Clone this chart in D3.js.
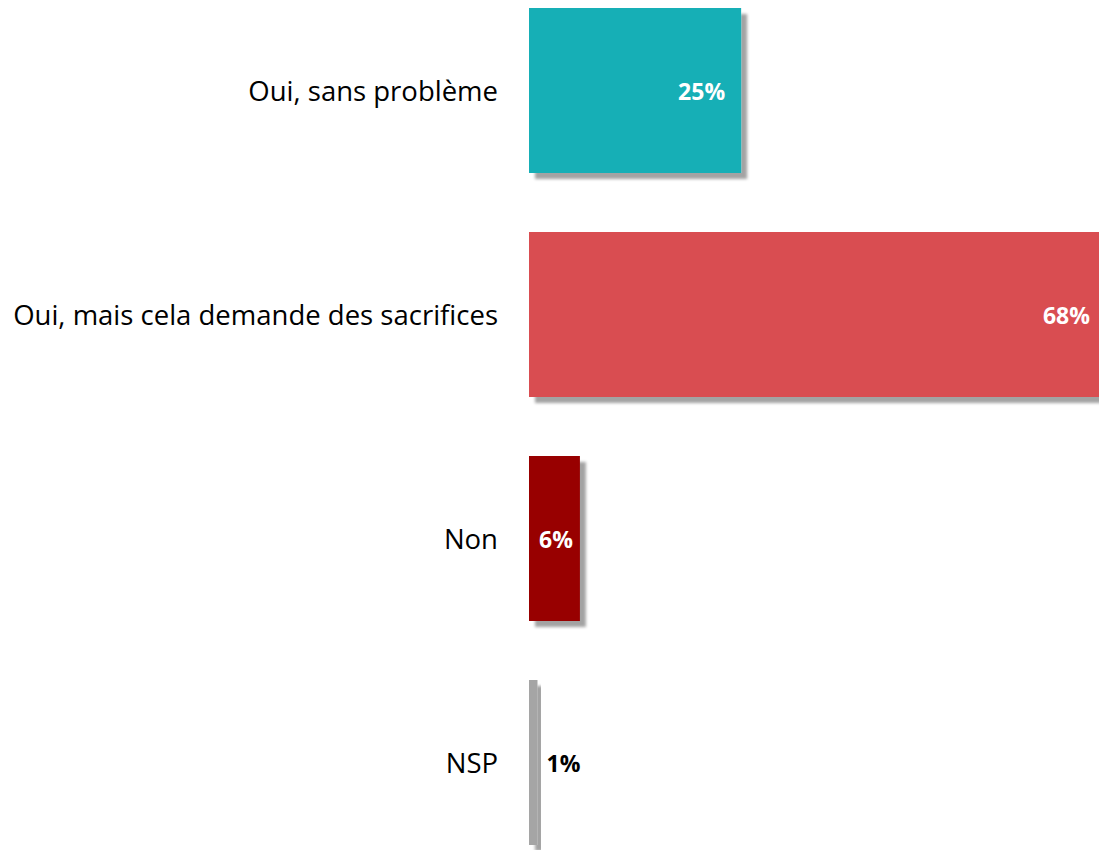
<!DOCTYPE html>
<html><head><meta charset="utf-8">
<script src="https://cdn.jsdelivr.net/npm/d3@7"></script>
<style>html,body{margin:0;padding:0;background:#fff;overflow:hidden}</style>
</head><body>
<svg id="c" width="1099" height="850"></svg>
<script>
const categories = ["Oui, sans problème", "Oui, mais cela demande des sacrifices", "Non", "NSP"];
const values = [25, 68, 6, 1];
const colors = ["#13AFB6", "#D94E51", "#980000", "#A5A5A5"];
const valueLabels = ["25%", "68%", "6%", "1%"];

const svg = d3.select("#c");
const defs = svg.append("defs");
const f = defs.append("filter").attr("id","sh").attr("x","-10%").attr("y","-10%").attr("width","140%").attr("height","140%");
f.append("feDropShadow").attr("dx",6).attr("dy",6).attr("stdDeviation",1.8).attr("flood-color","#000").attr("flood-opacity",0.36);

const x = d3.scaleLinear().domain([0, 100]).range([529, 529 + 848.5]);
const y = d3.scaleBand().domain(categories)
  .range([8, 8 + 224*3 + 165]).paddingInner(59/224).paddingOuter(0);

const g = svg.append("g");
g.selectAll("rect").data(categories).join("rect")
  .attr("x", x(0)).attr("y", d => y(d))
  .attr("width", (d,i) => x(values[i]) - x(0))
  .attr("height", y.bandwidth())
  .attr("fill", (d,i) => colors[i])
  .attr("filter","url(#sh)");

g.selectAll("text.cat").data(categories).join("text").attr("class","cat")
  .attr("x", 498).attr("y", d => y(d) + y.bandwidth()/2)
  .attr("text-anchor","end").attr("dominant-baseline","central")
  .style("font-family","'Open Sans', sans-serif").style("font-size","27.5px").style("fill","#000")
  .text(d => d);

g.selectAll("text.val").data(categories).join("text").attr("class","val")
  .each(function(d,i){
    const w = x(values[i]) - x(0);
    const t = d3.select(this);
    let xx, anchor, fill;
    if (w > 100) { xx = x(values[i]) - 16; anchor = "end"; fill = "#fff"; }
    else if (w > 40) { xx = x(values[i]) - 7; anchor = "end"; fill = "#fff"; }
    else { xx = x(values[i]) + 9; anchor = "start"; fill = "#000"; }
    t.attr("x", xx).attr("text-anchor", anchor).style("fill", fill);
  })
  .attr("y", d => y(d) + y.bandwidth()/2)
  .attr("dominant-baseline","central")
  .style("font-family","'Open Sans', sans-serif").style("font-size","23px").style("font-weight","bold")
  .text((d,i) => valueLabels[i]);
</script>
</body></html>
